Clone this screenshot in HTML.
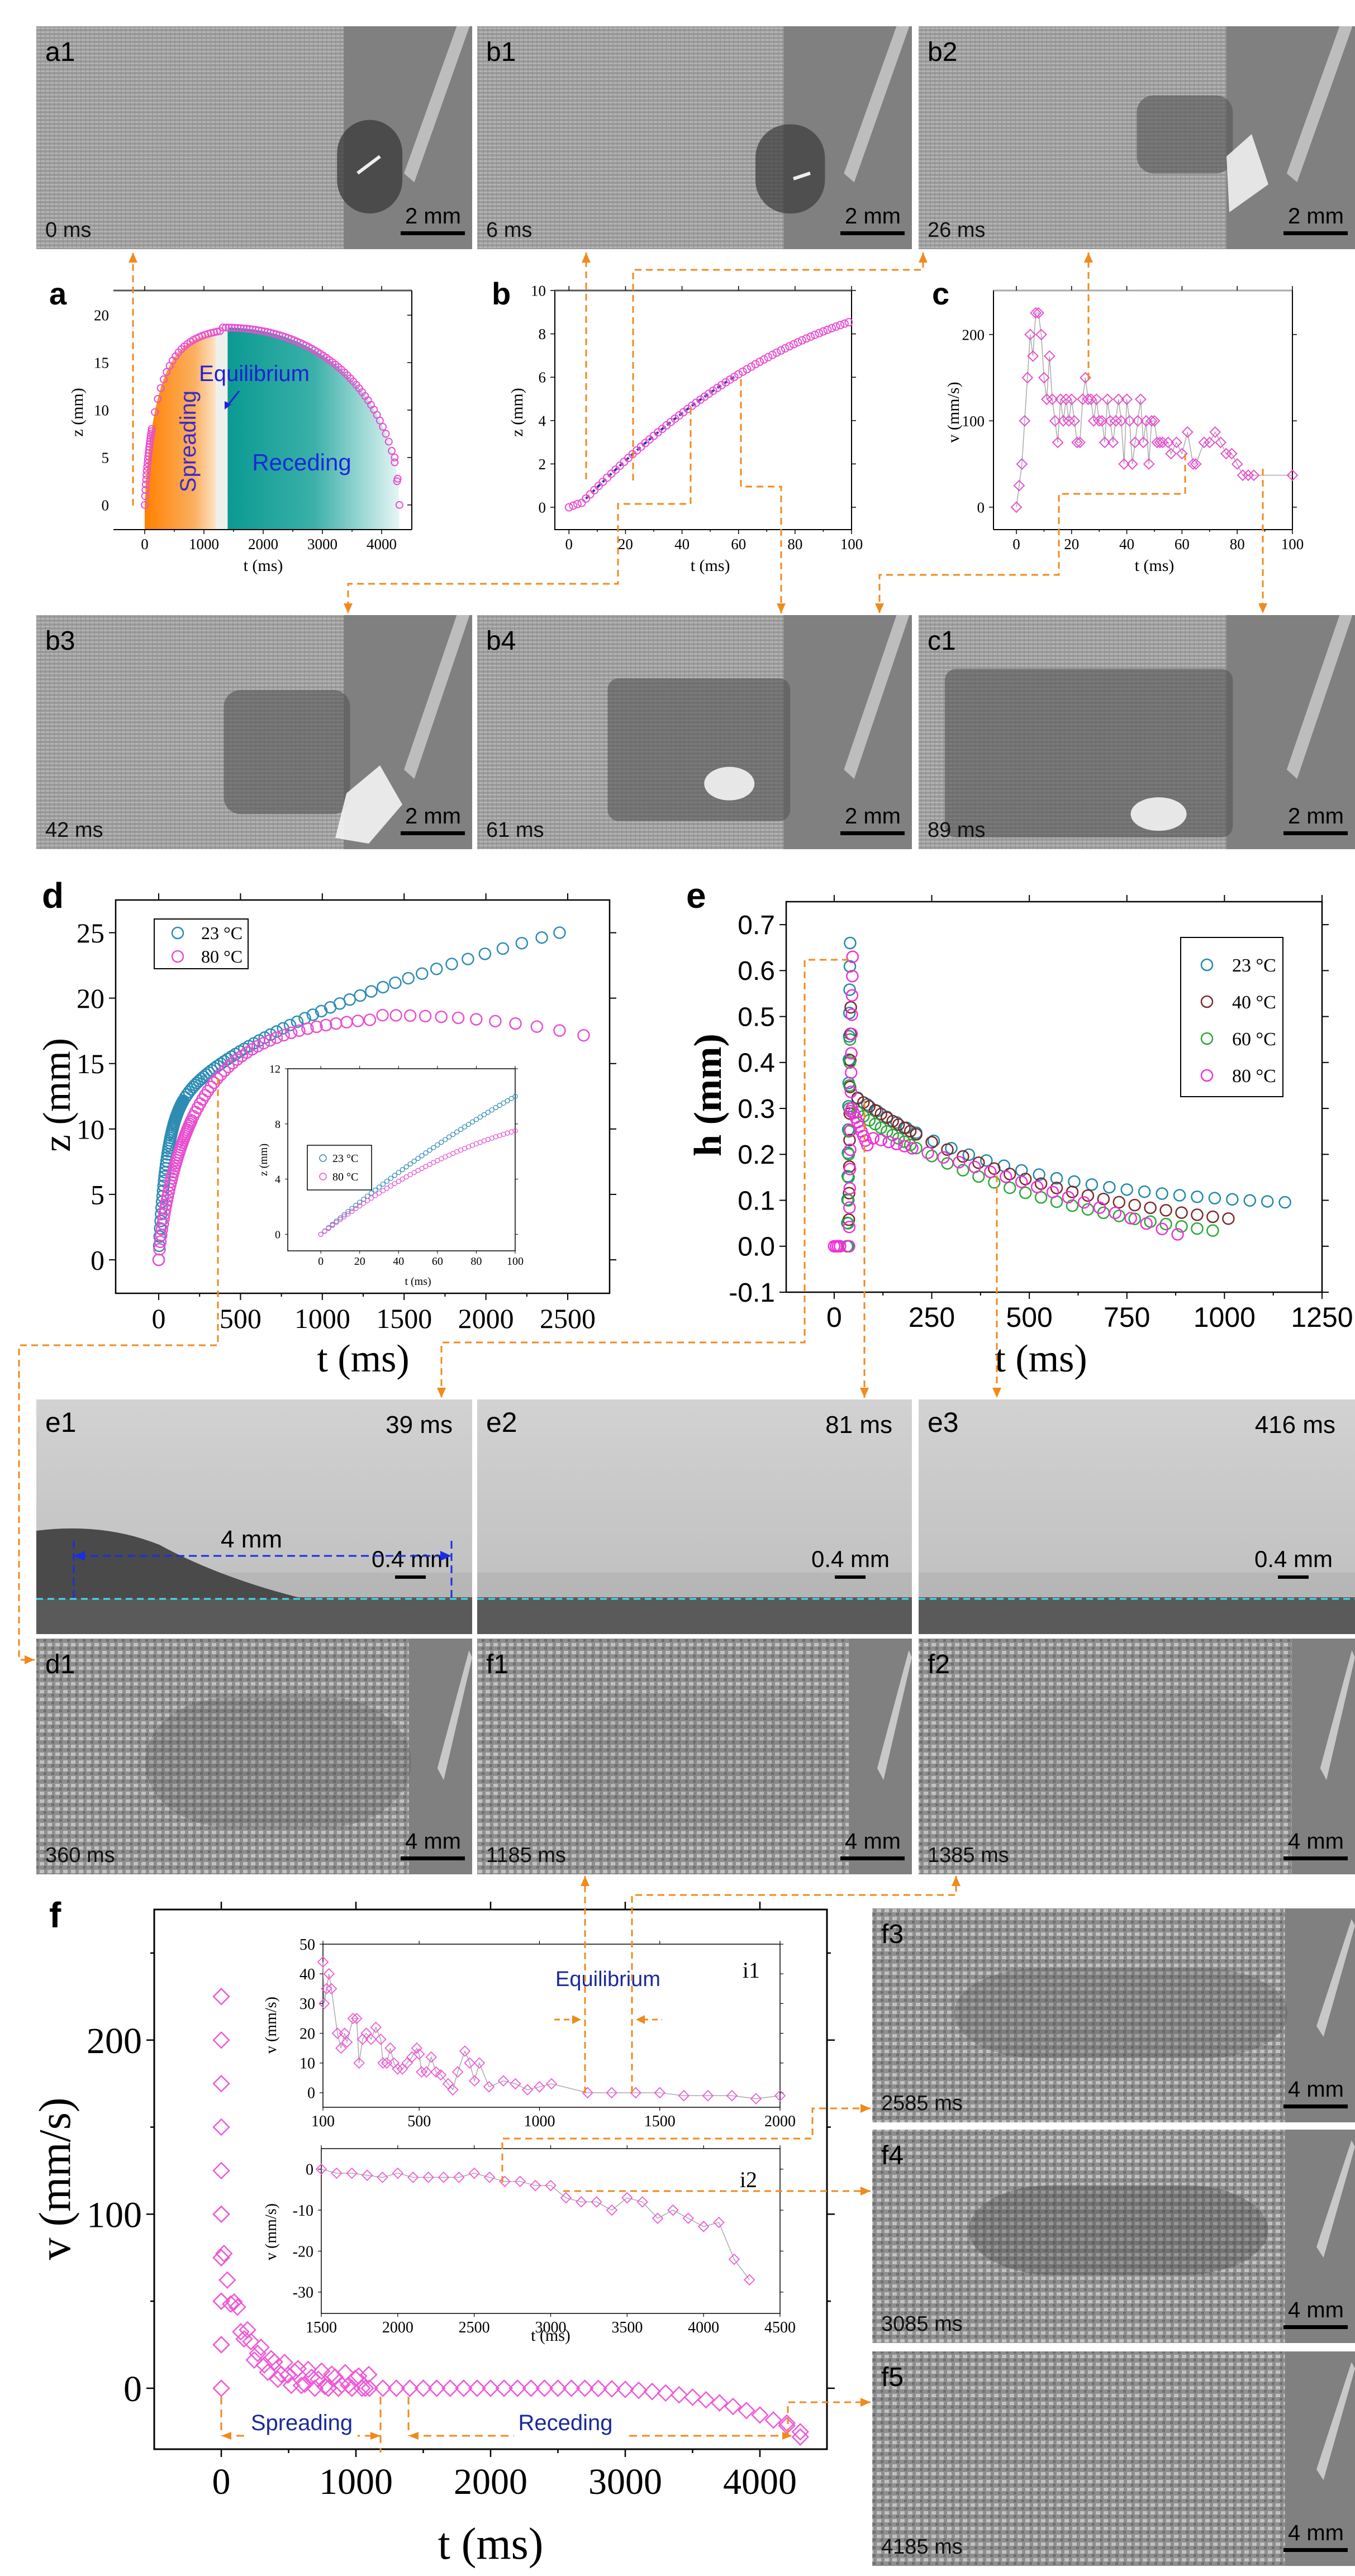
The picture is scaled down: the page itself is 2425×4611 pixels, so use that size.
<!DOCTYPE html>
<html><head><meta charset="utf-8">
<style>
html,body{margin:0;padding:0;background:#fff;}
svg{display:block;}
</style></head>
<body>
<svg id="s" width="2425" height="4611" viewBox="0 0 2425 4611" xmlns="http://www.w3.org/2000/svg">
<defs>
<pattern id="mesh" width="8" height="7" patternUnits="userSpaceOnUse">
<rect width="8" height="7" fill="#9a9a9a"/><rect y="0" width="8" height="3" fill="#b4b4b4"/><rect x="0" width="2" height="7" fill="#8c8c8c" opacity="0.5"/>
</pattern>
<pattern id="mesh2" width="14" height="14" patternUnits="userSpaceOnUse">
<rect width="14" height="14" fill="#8e8e8e"/><rect x="1" y="1" width="8" height="6" fill="#c2c2c2"/><rect x="8" y="8" width="5" height="5" fill="#6e6e6e"/>
</pattern>
<linearGradient id="gOr" x1="0" x2="1" y1="0" y2="0"><stop offset="0" stop-color="#ff8000"/><stop offset="0.7" stop-color="#fbb060"/><stop offset="1" stop-color="#fde3c8"/></linearGradient>
<linearGradient id="gTe" x1="0" x2="1" y1="0" y2="0"><stop offset="0" stop-color="#0a9a92"/><stop offset="0.5" stop-color="#3ab0a8"/><stop offset="1" stop-color="#e6f6f5"/></linearGradient>
<linearGradient id="gSide" x1="0" x2="0" y1="0" y2="1"><stop offset="0" stop-color="#d2d2d2"/><stop offset="1" stop-color="#bcbcbc"/></linearGradient>
</defs>
<g id="g"></g>
</svg>
<script>
(function(){
var out=[];
function A(s){out.push(s);}
var OR="#f08a1c";
function txt(x,y,s,size,opt){opt=opt||{};A('<text x="'+x+'" y="'+y+'" font-family="'+(opt.f||'Liberation Sans')+'" font-size="'+size+'" fill="'+(opt.c||'#000')+'"'+(opt.a?' text-anchor="'+opt.a+'"':'')+(opt.b?' font-weight="bold"':'')+(opt.t?' transform="'+opt.t+'"':'')+'>'+s+'</text>');}
function photo(x,y,w,h,frac,lab,time,bar,kind,drops){
  A('<rect x="'+x+'" y="'+y+'" width="'+w+'" height="'+h+'" fill="url(#'+(kind==2?'mesh2':'mesh')+')"/>');
  var mx=x+w*frac;
  A('<rect x="'+mx+'" y="'+y+'" width="'+(x+w-mx)+'" height="'+h+'" fill="#808080"/>');
  var nw=x+w-mx;
  if(kind==2){A('<polygon points="'+(mx+nw*0.95)+','+(y+h*0.05)+' '+(mx+nw*1.0)+','+(y+h*0.08)+' '+(mx+nw*0.55)+','+(y+h*0.6)+' '+(mx+nw*0.45)+','+(y+h*0.55)+'" fill="#c8c8c8"/>');}
  else{A('<polygon points="'+(mx+nw*0.88)+','+y+' '+(mx+nw*0.98)+','+y+' '+(mx+nw*0.55)+','+(y+h*0.7)+' '+(mx+nw*0.47)+','+(y+h*0.66)+'" fill="#bdbdbd"/>');}
  (drops||[]).forEach(function(d){
    A('<rect x="'+(x+w*d[0])+'" y="'+(y+h*d[1])+'" width="'+(w*(d[2]-d[0]))+'" height="'+(h*(d[3]-d[1]))+'" rx="'+(d[5]||40)+'" fill="'+(d[4]||'#555')+'" opacity="'+(d[6]||0.55)+'"/>');
  });
  txt(x+16,y+62,lab,48,{c:'#000'});
  txt(x+16,y+h-22,time,38,{c:'#111'});
  txt(x+w-20,y+h-46,bar,40,{a:'end',c:'#000'});
  A('<rect x="'+(x+w-128)+'" y="'+(y+h-32)+'" width="115" height="7" fill="#000"/>');
}
photo(65,47,780,399,0.705,'a1','0 ms','2 mm',1,[[0.69,0.42,0.84,0.84,'#3a3a3a',60,0.75]]);
A('<line x1="640" y1="310" x2="680" y2="280" stroke="#eee" stroke-width="6"/>');
photo(854,47,778,399,0.705,'b1','6 ms','2 mm',1,[[0.64,0.44,0.8,0.84,'#3a3a3a',60,0.7]]);
A('<line x1="1420" y1="320" x2="1450" y2="310" stroke="#eee" stroke-width="6"/>');
photo(1644,47,781,399,0.705,'b2','26 ms','2 mm',1,[[0.5,0.31,0.72,0.66,'#555',30,0.6]]);
A('<polygon points="2195,280 2240,240 2270,330 2200,380" fill="#f0f0f0" opacity="0.9"/>');
photo(65,1101,780,419,0.705,'b3','42 ms','2 mm',1,[[0.43,0.32,0.72,0.85,'#555',30,0.6]]);
A('<polygon points="620,1420 680,1370 720,1440 660,1510 600,1500" fill="#f4f4f4" opacity="0.9"/>');
photo(854,1101,778,419,0.705,'b4','61 ms','2 mm',1,[[0.3,0.27,0.72,0.88,'#555',20,0.6]]);
A('<ellipse cx="'+(854+778*0.58)+'" cy="'+(1101+419*0.72)+'" rx="45" ry="30" fill="#f4f4f4" opacity="0.9"/>');
photo(1644,1101,781,419,0.705,'c1','89 ms','2 mm',1,[[0.06,0.23,0.72,0.95,'#555',20,0.6]]);
A('<ellipse cx="'+(1644+781*0.55)+'" cy="'+(1101+419*0.85)+'" rx="50" ry="30" fill="#f4f4f4" opacity="0.9"/>');
function sidep(x,y,w,h,lab,time,drop){
  A('<rect x="'+x+'" y="'+y+'" width="'+w+'" height="'+h+'" fill="url(#gSide)"/>');
  A('<rect x="'+x+'" y="'+(y+h-66)+'" width="'+w+'" height="66" fill="#5a5a5a"/>');
  A('<rect x="'+x+'" y="'+(y+h-110)+'" width="'+w+'" height="44" fill="#a8a8a8" opacity="0.4"/>');
  if(drop){A('<path d="M'+x+','+(y+h-63)+' L'+x+','+(y+h-185)+' Q'+(x+120)+','+(y+h-200)+' '+(x+220)+','+(y+h-160)+' Q'+(x+330)+','+(y+h-100)+' '+(x+480)+','+(y+h-63)+' Z" fill="#4a4a4a"/>');}
  A('<line x1="'+x+'" x2="'+(x+w)+'" y1="'+(y+h-63)+'" y2="'+(y+h-63)+'" stroke="#3ee0f0" stroke-width="3" stroke-dasharray="12,8"/>');
  txt(x+16,y+58,lab,50);
  txt(x+w-35,y+60,time,44,{a:'end'});
  txt(x+w-40,y+h-120,'0.4 mm',42,{a:'end'});
  A('<rect x="'+(x+w-138)+'" y="'+(y+h-105)+'" width="55" height="6" fill="#000"/>');
}
sidep(65,2505,780,420,'e1','39 ms',true);
A('<g stroke="#1a2ee0" stroke-width="3" stroke-dasharray="14,8" fill="none"><line x1="132" x2="132" y1="2758" y2="2862"/><line x1="808" x2="808" y1="2758" y2="2862"/><line x1="140" x2="800" y1="2785" y2="2785"/></g>');
A('<polygon points="132,2785 152,2776 152,2794" fill="#1a2ee0"/><polygon points="808,2785 788,2776 788,2794" fill="#1a2ee0"/>');
txt(450,2770,'4 mm',44,{a:'middle'});
sidep(854,2505,778,420,'e2','81 ms',false);
sidep(1644,2505,781,420,'e3','416 ms',false);
function meshp(x,y,w,h,frac,lab,time,drop){ photo(x,y,w,h,frac,lab,time,'4 mm',2,drop); }
meshp(65,2933,780,422,0.855,'d1','360 ms',[[0.25,0.25,0.86,0.8,'#555',150,0.25]]);
meshp(854,2933,778,422,0.855,'f1','1185 ms',[[0.18,0.25,0.85,0.82,'#666',150,0.12]]);
meshp(1644,2933,781,422,0.855,'f2','1385 ms',[[0.18,0.25,0.85,0.82,'#666',150,0.12]]);
meshp(1561,3416,864,383,0.855,'f3','2585 ms',[[0.17,0.28,0.86,0.7,'#555',150,0.3]]);
meshp(1561,3812,864,382,0.855,'f4','3085 ms',[[0.2,0.26,0.82,0.68,'#444',150,0.35]]);
meshp(1561,4209,864,384,0.855,'f5','4185 ms',[]);

function Ax(x0,y0,x1,y1,xa,xb,ya,yb){
  var o={x0:x0,y0:y0,x1:x1,y1:y1};
  o.X=function(v){return x0+(v-xa)/(xb-xa)*(x1-x0);};
  o.Y=function(v){return y1-(v-ya)/(yb-ya)*(y1-y0);};
  return o;
}
function frame(a,sw,col){A('<rect x="'+a.x0+'" y="'+a.y0+'" width="'+(a.x1-a.x0)+'" height="'+(a.y1-a.y0)+'" fill="none" stroke="'+(col||'#000')+'" stroke-width="'+sw+'"/>');}
function xt(a,vals,size,font,len,sw,minor,labs){
  vals.forEach(function(v,i){var X=a.X(v);
    A('<line x1="'+X+'" x2="'+X+'" y1="'+a.y1+'" y2="'+(a.y1+len)+'" stroke="#000" stroke-width="'+sw+'"/>');
    A('<line x1="'+X+'" x2="'+X+'" y1="'+a.y0+'" y2="'+(a.y0-len)+'" stroke="#000" stroke-width="'+sw+'"/>');
    txt(X,a.y1+len+size*1.0,labs?labs[i]:v,size,{a:'middle',f:font});});
  (minor||[]).forEach(function(v){var X=a.X(v);A('<line x1="'+X+'" x2="'+X+'" y1="'+a.y1+'" y2="'+(a.y1+len/2)+'" stroke="#000" stroke-width="'+sw+'"/>');});
}
function yt(a,vals,size,font,len,sw,labs){
  vals.forEach(function(v,i){var Y=a.Y(v);
    A('<line x1="'+a.x0+'" x2="'+(a.x0-len)+'" y1="'+Y+'" y2="'+Y+'" stroke="#000" stroke-width="'+sw+'"/>');
    A('<line x1="'+a.x1+'" x2="'+(a.x1+len)+'" y1="'+Y+'" y2="'+Y+'" stroke="#000" stroke-width="'+sw+'"/>');
    txt(a.x0-len-8,Y+size*0.35,labs?labs[i]:v,size,{a:'end',f:font});});
}
function circ(a,pts,r,col,sw){pts.forEach(function(p){A('<circle cx="'+a.X(p[0])+'" cy="'+a.Y(p[1])+'" r="'+r+'" fill="none" stroke="'+col+'" stroke-width="'+sw+'"/>');});}
function diam(a,pts,r,col,sw,line){
  if(line){A('<polyline points="'+pts.map(function(p){return a.X(p[0])+','+a.Y(p[1]);}).join(' ')+'" fill="none" stroke="#aaa" stroke-width="1.5"/>');}
  pts.forEach(function(p){var X=a.X(p[0]),Y=a.Y(p[1]);A('<polygon points="'+X+','+(Y-r)+' '+(X+r)+','+Y+' '+X+','+(Y+r)+' '+(X-r)+','+Y+'" fill="none" stroke="'+col+'" stroke-width="'+sw+'"/>');});
}
var PK="#e84fd0",BL="#2c8cb4";
var SER='Liberation Serif';
function z80(t){if(t<=0)return 0;if(t<1300)return 18.8*(1-Math.exp(-Math.pow(t/250,0.8)));var q=(t-1300)/3000;return 18.7*Math.sqrt(Math.max(0,1-Math.pow(q,2.2)));}
function z23(t){if(t<=0)return 0;return 8.5*(1-Math.exp(-t/50))+16.5*Math.pow(t/2450,0.5);}
var t;
// ---- a ----
var a=Ax(203,520,737,948,-528,4509,-2.6,22.6);
var topPts=[];
for(t=0;t<=1200;t+=20)topPts.push(a.X(t)+','+a.Y(z80(t)));
A('<polygon points="'+a.X(0)+','+a.Y(-2.6)+' '+topPts.join(' ')+' '+a.X(1200)+','+a.Y(-2.6)+'" fill="url(#gOr)"/>');
var mid=[];for(t=1200;t<=1400;t+=20)mid.push(a.X(t)+','+a.Y(z80(t)));
A('<polygon points="'+a.X(1200)+','+a.Y(-2.6)+' '+mid.join(' ')+' '+a.X(1400)+','+a.Y(-2.6)+'" fill="#eef0ec"/>');
var rec=[];for(t=1400;t<=4300;t+=20)rec.push(a.X(t)+','+a.Y(z80(t)));
A('<polygon points="'+a.X(1400)+','+a.Y(-2.6)+' '+rec.join(' ')+' '+a.X(4300)+','+a.Y(-2.6)+'" fill="url(#gTe)"/>');
var pa=[];for(t=0;t<120;t+=6)pa.push([t,z80(t)]);for(t=120;t<4300;t+=50)pa.push([t,z80(t)]);pa.push([4300,0]);pa.push([4260,2.5]);pa.push([4220,5]);
circ(a,pa,6,PK,2);
A('<line x1="'+a.x0+'" x2="'+a.x1+'" y1="'+a.y0+'" y2="'+a.y0+'" stroke="#555" stroke-width="3"/>');
A('<line x1="'+a.x0+'" x2="'+a.x1+'" y1="'+a.y1+'" y2="'+a.y1+'" stroke="#000" stroke-width="2"/>');
A('<line x1="'+a.x1+'" x2="'+a.x1+'" y1="'+a.y0+'" y2="'+a.y1+'" stroke="#000" stroke-width="2"/>');
xt(a,[0,1000,2000,3000,4000],27,SER,8,1.5,[500,1500,2500,3500]);
yt(a,[0,5,10,15,20],27,SER,0,1.5);
[0,5,10,15,20].forEach(function(v){A('<line x1="'+(a.x1-8)+'" x2="'+a.x1+'" y1="'+a.Y(v)+'" y2="'+a.Y(v)+'" stroke="#000" stroke-width="1.5"/>');});
txt(a.X(2000),1022,'t (ms)',30,{a:'middle',f:SER});
txt(0,0,'z (mm)',30,{a:'middle',f:SER,t:'translate(148,738) rotate(-90)'});
txt(455,682,'Equilibrium',40,{a:'middle',c:'#2020d8'});
A('<line x1="428" y1="700" x2="408" y2="725" stroke="#2020d8" stroke-width="3"/><polygon points="402,733 402,718 414,724" fill="#2020d8"/>');
txt(0,0,'Spreading',40,{a:'middle',c:'#3a2ad0',t:'translate(350,790) rotate(-90)'});
txt(540,842,'Receding',42,{a:'middle',c:'#1a2ad8'});
txt(88,545,'a',56,{b:true});
// ---- b ----
var b=Ax(993,520,1524,948,-5,100,-1.03,10);
frame(b,2);
A('<line x1="'+b.x0+'" x2="'+b.x1+'" y1="'+b.y0+'" y2="'+b.y0+'" stroke="#555" stroke-width="3"/>');
xt(b,[0,20,40,60,80,100],27,SER,8,1.5,[10,30,50,70,90]);
yt(b,[0,2,4,6,8,10],27,SER,8,1.5);
var pb=[];for(t=0;t<=100;t+=1.5){var z=t<4?0.05*t:0.135*(t-3)-0.00048*(t-3)*(t-3);pb.push([t,z]);}
A('<polyline points="'+pb.filter(function(p){return p[0]>5&&p[0]<60;}).map(function(p){return b.X(p[0])+','+b.Y(p[1]);}).join(' ')+'" fill="none" stroke="#2030c0" stroke-width="4" stroke-dasharray="8,6"/>');
circ(b,pb,6.5,PK,2);
txt(b.X(50),1022,'t (ms)',30,{a:'middle',f:SER});
txt(0,0,'z (mm)',30,{a:'middle',f:SER,t:'translate(935,738) rotate(-90)'});
txt(880,545,'b',56,{b:true});
// ---- c ----
var c=Ax(1778,520,2313,948,-8.3,100,-26,251);
A('<line x1="'+c.x0+'" x2="'+c.x1+'" y1="'+c.y0+'" y2="'+c.y0+'" stroke="#aaa" stroke-width="3"/>');
A('<line x1="'+c.x0+'" x2="'+c.x1+'" y1="'+c.y1+'" y2="'+c.y1+'" stroke="#000" stroke-width="2"/>');
A('<line x1="'+c.x0+'" x2="'+c.x0+'" y1="'+c.y0+'" y2="'+c.y1+'" stroke="#000" stroke-width="2"/>');
A('<line x1="'+c.x1+'" x2="'+c.x1+'" y1="'+c.y0+'" y2="'+c.y1+'" stroke="#000" stroke-width="2"/>');
xt(c,[0,20,40,60,80,100],27,SER,8,1.5,[10,30,50,70,90]);
yt(c,[0,100,200],27,SER,8,1.5);
var pc=[[0,0],[1,25],[2,50],[3,100],[4,150],[5,200],[6,175],[7,225],[8,225],[9,200],[10,150],[11,125],[12,175],[13,125],[14,100],[15,75],[16,125],[17,100],[18,125],[19,100],[20,125],[21,100],[22,75],[23,75],[24,125],[25,150],[26,125],[27,125],[28,100],[29,125],[30,100],[31,100],[32,75],[33,125],[34,100],[35,75],[36,100],[37,125],[38,100],[39,50],[40,125],[41,100],[42,50],[43,75],[44,100],[45,125],[46,75],[47,100],[48,50],[49,100],[50,100],[51,75],[52,75],[53,75],[55,75],[56,62],[58,75],[60,62],[62,87],[64,50],[65,50],[68,75],[70,75],[72,87],[74,75],[76,62],[78,62],[80,50],[82,37],[84,37],[86,37],[100,37]];
diam(c,pc,9,PK,2,true);
txt(c.X(50),1022,'t (ms)',30,{a:'middle',f:SER});
txt(0,0,'v (mm/s)',30,{a:'middle',f:SER,t:'translate(1716,738) rotate(-90)'});
txt(1668,545,'c',56,{b:true});
// ---- d ----
var d=Ax(207,1611,1091,2315,-263,2756,-2.56,27.5);
frame(d,2.5);
xt(d,[0,500,1000,1500,2000,2500],50,SER,12,2,[250,750,1250,1750,2250]);
yt(d,[0,5,10,15,20,25],50,SER,12,2);
var d23=[],d80=[];
for(t=0;t<150;t+=3){d23.push([t,z23(t)]);}
for(t=0;t<200;t+=5){d80.push([t,z80(t)]);}
for(t=150;t<=2450;t+=Math.max(12,t*0.055)){d23.push([t,z23(t)]);}
d23.push([2450,25]);
for(t=200;t<=2700;t+=Math.max(12,t*0.06)){d80.push([t,z80(t)]);}
circ(d,d23,10,BL,2.5);
circ(d,d80,10,PK,2.5);
A('<rect x="276" y="1645" width="168" height="89" fill="#fff" stroke="#000" stroke-width="2"/>');
A('<circle cx="318" cy="1670" r="10" fill="none" stroke="'+BL+'" stroke-width="2.5"/><circle cx="318" cy="1712" r="10" fill="none" stroke="'+PK+'" stroke-width="2.5"/>');
txt(360,1681,'23 °C',32,{f:SER});txt(360,1723,'80 °C',32,{f:SER});
txt(d.X(1250),2455,'t (ms)',70,{a:'middle',f:SER});
txt(0,0,'z (mm)',70,{a:'middle',f:SER,t:'translate(125,1960) rotate(-90)'});
txt(75,1625,'d',64,{b:true});
var di=Ax(515,1913,922,2239,-17,100,-1.2,12);
A('<rect x="515" y="1913" width="407" height="326" fill="#fff" stroke="none"/>');
frame(di,1.5);
xt(di,[0,20,40,60,80,100],20,SER,5,1,[]);
yt(di,[0,4,8,12],20,SER,5,1);
var i23=[],i80=[];for(t=0;t<=100;t+=2){i23.push([t,0.12*t-0.0002*t*t]);i80.push([t,0.11*t-0.00035*t*t]);}
circ(di,i23,4,BL,1.2);circ(di,i80,4,PK,1.2);
A('<rect x="550" y="2050" width="115" height="80" fill="#fff" stroke="#000" stroke-width="1.5"/>');
A('<circle cx="578" cy="2073" r="6" fill="none" stroke="'+BL+'" stroke-width="1.5"/><circle cx="578" cy="2106" r="6" fill="none" stroke="'+PK+'" stroke-width="1.5"/>');
txt(595,2080,'23 °C',20,{f:SER});txt(595,2113,'80 °C',20,{f:SER});
txt(di.X(50),2300,'t (ms)',20,{a:'middle',f:SER});
txt(0,0,'z (mm)',20,{a:'middle',f:SER,t:'translate(478,2076) rotate(-90)'});
// ---- e ----
var e=Ax(1407,1614,2366,2313,-123,1250,-0.1,0.75);
frame(e,2.5);
xt(e,[0,250,500,750,1000,1250],50,'Liberation Sans',12,2,[125,375,625,875,1125]);
yt(e,[-0.1,0.0,0.1,0.2,0.3,0.4,0.5,0.6,0.7],48,'Liberation Sans',12,2,['-0.1','0.0','0.1','0.2','0.3','0.4','0.5','0.6','0.7']);
var G='#2aa838',BR='#7a2a2a';
function spike(x,hmax,n){var r=[];for(var i=0;i<n;i++)r.push([x+i*0.6,hmax*i/(n-1)]);return r;}
var e23=spike(33,0.66,14),e40=spike(37,0.52,10),e60=spike(35,0.45,10),e80=spike(38,0.63,16);
for(t=60;t<=1180;t+=(t<200?25:45))e23.push([t,0.08+0.22*Math.exp(-(t-100)/400)]);
for(t=60;t<=1030;t+=(t<200?15:40))e40.push([t,0.3*Math.exp(-(t-80)/520)-0.01+0.02]);
for(t=60;t<=980;t+=(t<200?15:40))e60.push([t,0.3*Math.exp(-(t-80)/520)-0.02]);
for(t=45;t<90;t+=5)e80.push([t,0.3-0.09*(t-45)/45]);
for(t=100;t<=900;t+=(t<200?20:40))e80.push([t,0.235-0.215*Math.pow((t-100)/800,1.1)]);
e80.push([0,0],[5,0],[10,0],[15,0]);
circ(e,e23,10,'#1e8aa6',2.5);circ(e,e40,10,BR,2.5);circ(e,e60,10,G,2.5);circ(e,e80,10,'#f030d8',2.5);
A('<rect x="2113" y="1678" width="183" height="285" fill="#fff" stroke="#000" stroke-width="2"/>');
[['23 °C','#1e8aa6'],['40 °C',BR],['60 °C',G],['80 °C','#f030d8']].forEach(function(l,i){var yy=1727+i*66;A('<circle cx="2160" cy="'+yy+'" r="10" fill="none" stroke="'+l[1]+'" stroke-width="2.5"/>');txt(2205,yy+12,l[0],34,{f:SER});});
txt(e.X(530),2455,'t (ms)',70,{a:'middle',f:SER});
txt(0,0,'h (mm)',70,{a:'middle',b:true,f:SER,t:'translate(1290,1960) rotate(-90)'});
txt(1228,1625,'e',64,{b:true});
// ---- f ----
var f=Ax(276,3418,1480,4384,-498,4498,-35,275);
frame(f,3);
xt(f,[0,1000,2000,3000,4000],66,SER,14,2.5,[500,1500,2500,3500]);
yt(f,[0,100,200],66,SER,14,2.5);
[50,150,250].forEach(function(v){A('<line x1="'+f.x0+'" x2="'+(f.x0-7)+'" y1="'+f.Y(v)+'" y2="'+f.Y(v)+'" stroke="#000" stroke-width="2.5"/><line x1="'+f.x1+'" x2="'+(f.x1+7)+'" y1="'+f.Y(v)+'" y2="'+f.Y(v)+'" stroke="#000" stroke-width="2.5"/>');});
var pf=[];[0,25,50,75,100,125,150,175,200,225,100,75,50,25].forEach(function(v){pf.push([0,v]);});
for(t=20;t<1100;t+=25){var v=70*Math.exp(-t/160)+10*Math.exp(-t/700)+6*Math.sin(t*0.07);pf.push([t,Math.max(0,v)]);}
for(t=1100;t<=4300;t+=100){var v2=t<2600?0:-25*Math.pow((t-2600)/1700,2.5);pf.push([t,v2]);}
pf.push([4200,-20],[4300,-28]);
diam(f,pf,14,'#f058d8',2.5,false);
txt(f.X(2000),4580,'t (ms)',80,{a:'middle',f:SER});
txt(0,0,'v (mm/s)',80,{a:'middle',f:SER,t:'translate(125,3900) rotate(-90)'});
txt(88,3450,'f',64,{b:true});
A('<g stroke="'+OR+'" stroke-width="3" stroke-dasharray="14,9" fill="none"><line x1="396" y1="4290" x2="396" y2="4360"/><line x1="681" y1="4290" x2="681" y2="4390"/><line x1="731" y1="4290" x2="731" y2="4360"/><line x1="400" y1="4360" x2="680" y2="4360"/><line x1="735" y1="4360" x2="1415" y2="4360"/></g>');
A('<polygon points="396,4360 414,4353 414,4367" fill="'+OR+'"/><polygon points="681,4360 663,4353 663,4367" fill="'+OR+'"/><polygon points="731,4360 749,4353 749,4367" fill="'+OR+'"/><polygon points="1418,4360 1400,4353 1400,4367" fill="'+OR+'"/>');
A('<rect x="440" y="4320" width="200" height="60" fill="#fff"/><rect x="920" y="4320" width="200" height="60" fill="#fff"/>');
txt(540,4350,'Spreading',40,{a:'middle',c:'#1a2a9a'});
txt(1012,4350,'Receding',40,{a:'middle',c:'#1a2a9a'});
var i1=Ax(578,3480,1396,3772,100,2000,-4.9,50);
frame(i1,1.5);
xt(i1,[100,500,1000,1500,2000],28,SER,6,1.2,[]);
yt(i1,[0,10,20,30,40,50],28,SER,6,1.2);
var pi1=[[100,44],[105,30],[115,35],[125,40],[135,35],[160,20],[175,15],[190,20],[200,17],[225,25],[240,25],[250,10],[265,18],[280,20],[300,18],[320,22],[340,18],[350,10],[365,10],[380,15],[395,10],[410,8],[430,8],[450,10],[470,12],[490,15],[500,13],[510,7],[530,7],[550,12],[570,7],[590,6],[620,3],[640,1],[660,7],[690,14],[710,10],[730,4],[750,10],[790,2],[850,4],[900,3],[950,1],[1000,2],[1050,3],[1200,0],[1300,0],[1400,0],[1500,0],[1600,-1],[1700,-1],[1800,-1],[1900,-2],[2000,-1]];
diam(i1,pi1,9,'#f058d8',1.8,true);
txt(1360,3540,'i1',40,{a:'end',f:SER});
txt(1088,3555,'Equilibrium',38,{a:'middle',c:'#1a2a9a'});
A('<g stroke="'+OR+'" stroke-width="3" stroke-dasharray="10,7"><line x1="992" y1="3615" x2="1030" y2="3615"/><line x1="1150" y1="3615" x2="1185" y2="3615"/></g><polygon points="1040,3615 1024,3607 1024,3623" fill="'+OR+'"/><polygon points="1138,3615 1154,3607 1154,3623" fill="'+OR+'"/>');
txt(0,0,'v (mm/s)',28,{a:'middle',f:SER,t:'translate(494,3625) rotate(-90)'});
var i2=Ax(575,3846,1396,4141,1500,4500,-35.2,5);
frame(i2,1.5);
xt(i2,[1500,2000,2500,3000,3500,4000,4500],28,SER,6,1.2,[]);
yt(i2,[-30,-20,-10,0],28,SER,6,1.2);
var pi2=[[1500,0],[1600,-1],[1700,-1],[1800,-1.5],[1900,-2],[2000,-1],[2100,-2],[2200,-2],[2300,-2],[2400,-2],[2500,-1],[2600,-2],[2700,-3],[2800,-3],[2900,-4],[3000,-4],[3100,-7],[3200,-8],[3300,-8],[3400,-10],[3500,-7],[3600,-8],[3700,-12],[3800,-10],[3900,-12],[4000,-14],[4100,-13],[4200,-22],[4300,-27]];
diam(i2,pi2,9,'#f058d8',1.8,true);
txt(1355,3915,'i2',40,{a:'end',f:SER});
txt(i2.X(3000),4190,'t (ms)',30,{a:'middle',f:SER});
txt(0,0,'v (mm/s)',28,{a:'middle',f:SER,t:'translate(494,3995) rotate(-90)'});
function con(pts,arrow){
  A('<polyline points="'+pts.map(function(p){return p.join(',');}).join(' ')+'" fill="none" stroke="'+OR+'" stroke-width="3" stroke-dasharray="12,8"/>');
  if(arrow){var p=pts[pts.length-1],q=pts[pts.length-2];var dx=p[0]-q[0],dy=p[1]-q[1],L=Math.sqrt(dx*dx+dy*dy);dx/=L;dy/=L;var s=18,w=8;
  A('<polygon points="'+p[0]+','+p[1]+' '+(p[0]-dx*s-dy*w)+','+(p[1]-dy*s+dx*w)+' '+(p[0]-dx*s+dy*w)+','+(p[1]-dy*s-dx*w)+'" fill="'+OR+'"/>');}
}
con([[238,905],[238,452]],1);
con([[1049,858],[1049,452]],1);
con([[1133,860],[1133,483],[1652,483],[1652,452]],1);
con([[1948,679],[1948,452]],1);
con([[1236,730],[1236,902],[1106,902],[1106,1045],[623,1045],[623,1098]],1);
con([[1326,679],[1326,871],[1398,871],[1398,1098]],1);
con([[2121,812],[2121,884],[1895,884],[1895,1029],[1574,1029],[1574,1098]],1);
con([[2260,839],[2260,1098]],1);
con([[390,1930],[390,2408],[34,2408],[34,2971],[62,2971]],1);
con([[1519,1718],[1440,1718],[1440,2403],[790,2403],[790,2502]],1);
con([[1547,1971],[1547,2502]],1);
con([[1784,2104],[1784,2502]],1);
con([[1047,3747],[1047,3358]],1);
con([[1131,3746],[1131,3392],[1711,3392],[1711,3358]],1);
con([[899,3907],[899,3828],[1454,3828],[1454,3774],[1558,3774]],1);
con([[1008,3922],[1558,3922]],1);
con([[1410,4359],[1410,4300],[1558,4300]],1);
document.getElementById('g').innerHTML=out.join('');
})();
</script>
</body></html>
